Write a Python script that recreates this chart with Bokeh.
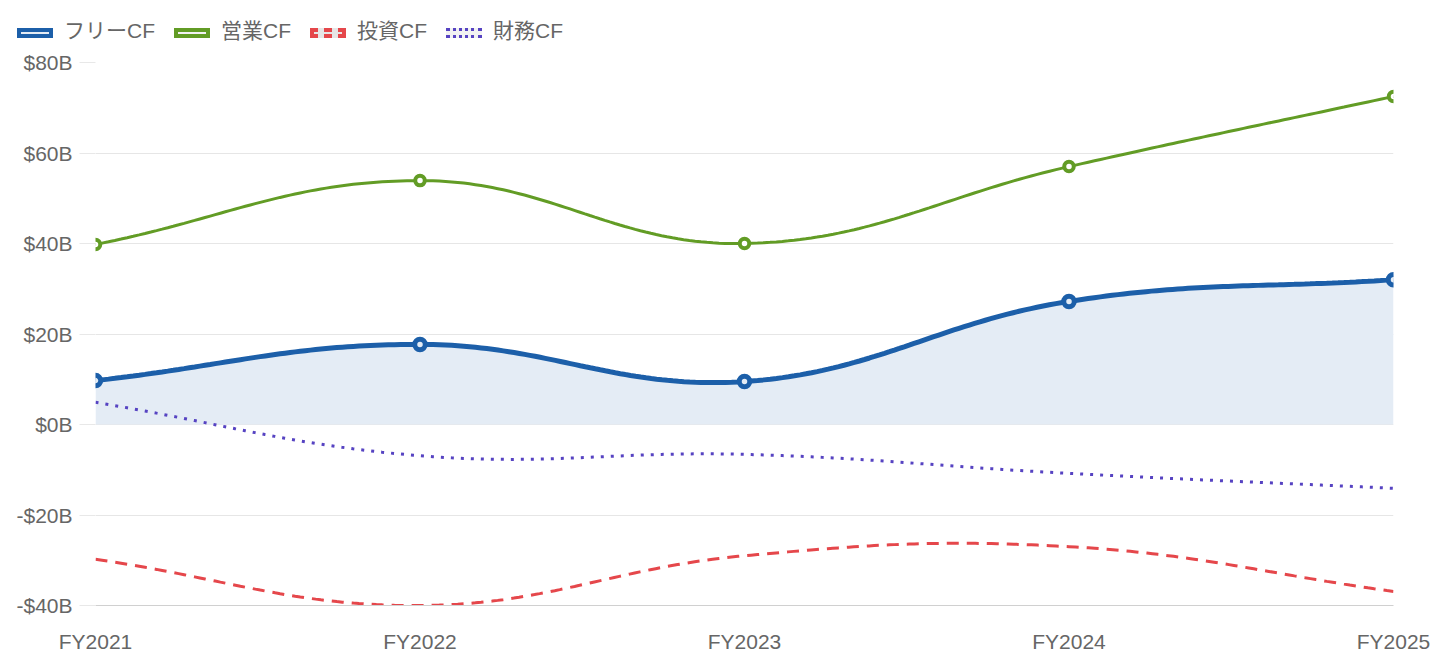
import numpy as np
from bokeh.plotting import figure
from bokeh.layouts import column
from bokeh.models import FixedTicker, Div
from bokeh.embed import file_html
from bokeh.resources import INLINE

# ---- data ----
years = ["FY2021", "FY2022", "FY2023", "FY2024", "FY2025"]
free_cf = [9.7, 17.7, 9.5, 27.2, 32.0]
operating_cf = [39.8, 53.9, 40.0, 57.0, 72.5]
investing_cf = [-29.8, -40.0, -29.0, -27.0, -36.9]
financing_cf = [4.9, -6.9, -6.6, -10.8, -14.1]
series_names = ["フリーCF", "営業CF", "投資CF", "財務CF"]
y_ticks = [-40, -20, 0, 20, 40, 60, 80]
y_tick_labels = ["-$40B", "-$20B", "$0B", "$20B", "$40B", "$60B", "$80B"]

BLUE = "#1c5fa9"
GREEN = "#629c25"
RED = "#e5474b"
PURPLE = "#5643c2"
AREA = "#e4ecf5"
FONT = "Liberation Sans, Noto Sans CJK JP"
FS = "21px"

xs = list(range(len(years)))

# approximate pixel scale of the frame (for spline weights, as Chart.js does)
SX = 1298 / 4.0
SY = 543 / 120.0


def spline_points(xv, yv, t=0.4, n=60):
    px = [x * SX for x in xv]
    py = [y * SY for y in yv]
    m = len(px)
    cp_prev, cp_next = [], []
    for i in range(m):
        pi = max(i - 1, 0)
        ni = min(i + 1, m - 1)
        d01 = np.hypot(px[i] - px[pi], py[i] - py[pi])
        d12 = np.hypot(px[ni] - px[i], py[ni] - py[i])
        tot = d01 + d12
        s01 = d01 / tot if tot else 0
        s12 = d12 / tot if tot else 0
        fa, fb = t * s01, t * s12
        dx, dy = px[ni] - px[pi], py[ni] - py[pi]
        cp_prev.append((px[i] - fa * dx, py[i] - fa * dy))
        cp_next.append((px[i] + fb * dx, py[i] + fb * dy))
    ox, oy = [], []
    tt = np.linspace(0, 1, n)
    for i in range(m - 1):
        p0 = np.array([px[i], py[i]])
        p1 = np.array(cp_next[i])
        p2 = np.array(cp_prev[i + 1])
        p3 = np.array([px[i + 1], py[i + 1]])
        for k, s in enumerate(tt):
            if i > 0 and k == 0:
                continue
            b = ((1 - s) ** 3) * p0 + 3 * ((1 - s) ** 2) * s * p1 + 3 * (1 - s) * s * s * p2 + s ** 3 * p3
            ox.append(b[0] / SX)
            oy.append(b[1] / SY)
    return ox, oy


LEG_H = 50

p = figure(width=1440, height=660 - LEG_H, output_backend="svg", toolbar_location=None,
           x_range=(0, 4), y_range=(-40, 80),
           min_border_left=95, min_border_right=47, min_border_top=62 - LEG_H,
           min_border_bottom=55)
p.outline_line_color = None
p.background_fill_color = "white"
p.border_fill_color = "white"

# axes
p.xaxis.ticker = FixedTicker(ticks=xs)
p.xaxis.major_label_overrides = {i: years[i] for i in xs}
p.xaxis.major_tick_line_color = None
p.xaxis.minor_tick_line_color = None
p.xaxis.axis_line_color = "#d0d0d0"
p.xaxis.major_label_standoff = 18
p.xaxis.major_label_text_font = FONT
p.xaxis.major_label_text_font_size = FS
p.xaxis.major_label_text_color = "#666666"

p.yaxis.ticker = FixedTicker(ticks=y_ticks)
p.yaxis.major_label_overrides = {v: l for v, l in zip(y_ticks, y_tick_labels)}
p.yaxis.axis_line_color = None
p.yaxis.major_tick_line_color = "#e8e8e8"
p.yaxis.major_tick_out = 16
p.yaxis.major_tick_in = 0
p.yaxis.minor_tick_line_color = None
p.yaxis.major_label_standoff = 7
p.yaxis.major_label_text_font = FONT
p.yaxis.major_label_text_font_size = FS
p.yaxis.major_label_text_color = "#666666"

p.xgrid.grid_line_color = None
p.ygrid.ticker = FixedTicker(ticks=y_ticks)
p.ygrid.grid_line_color = "#e6e6e6"
p.ygrid.grid_line_width = 1

# curves
fx, fy = spline_points(xs, free_cf)
ox, oy = spline_points(xs, operating_cf)
ix, iy = spline_points(xs, investing_cf)
nx, ny = spline_points(xs, financing_cf)

p.varea(x=fx, y1=[0] * len(fx), y2=fy, fill_color=AREA, fill_alpha=1.0)

p.line(nx, ny, line_color=PURPLE, line_width=3, line_dash="3 7")
p.line(ix, iy, line_color=RED, line_width=3, line_dash="12 8")
p.line(ox, oy, line_color=GREEN, line_width=3)
p.scatter(xs, operating_cf, size=9.5, fill_color="white", line_color=GREEN, line_width=4)
p.line(fx, fy, line_color=BLUE, line_width=5)
p.scatter(xs, free_cf, size=10.5, fill_color=AREA, line_color=BLUE, line_width=5)

# ---- legend strip (HTML, built from the series names and colours) ----
swatches = [
    f"border:4px solid {BLUE};background:{AREA};",
    f"border:4px solid {GREEN};background:#f2f2f2;",
    f"border:4px dashed {RED};background:#e6e6e6;",
    f"border:3px dotted {PURPLE};background:#f2f2f2;",
]
items = []
for name, sw in zip(series_names, swatches):
    items.append(
        f'<span style="display:inline-flex;align-items:center;margin-right:19px;">'
        f'<span style="display:inline-block;box-sizing:border-box;width:36px;height:10px;'
        f'margin-right:11px;margin-top:3px;{sw}"></span>'
        f'<span style="white-space:nowrap;">{name}</span></span>'
    )
html = (
    '<div style="position:absolute;left:17px;top:19px;display:flex;align-items:center;'
    "font-family:'Liberation Sans','Noto Sans CJK JP',sans-serif;font-size:21px;"
    'color:#666666;line-height:24px;">' + "".join(items) + "</div>"
)
legend_div = Div(text=html, width=1440, height=LEG_H,
                 styles={"position": "relative", "margin": "0", "padding": "0"})

layout = column(legend_div, p, spacing=0)
open("out.html", "w").write(file_html(layout, INLINE))
